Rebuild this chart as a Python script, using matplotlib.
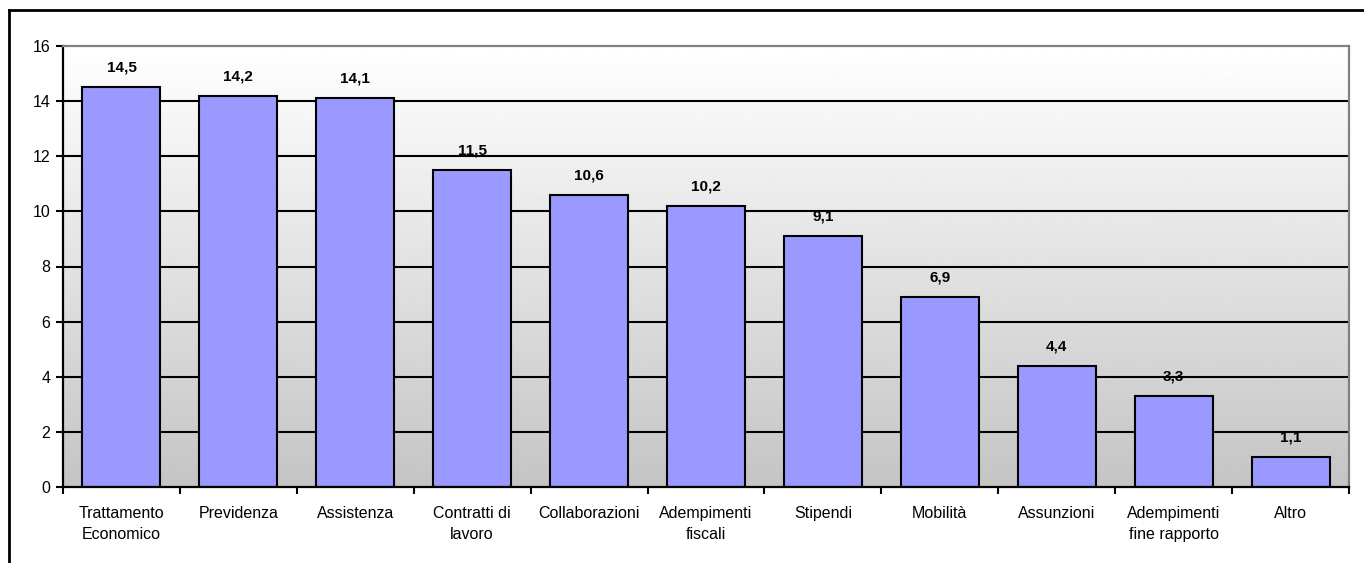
import numpy as np
import matplotlib
matplotlib.use("Agg")
import matplotlib.pyplot as plt
from matplotlib.lines import Line2D

categories = ["Trattamento\nEconomico", "Previdenza", "Assistenza", "Contratti di\nlavoro",
              "Collaborazioni", "Adempimenti\nfiscali", "Stipendi", "Mobilità",
              "Assunzioni", "Adempimenti\nfine rapporto", "Altro"]
values = [14.5, 14.2, 14.1, 11.5, 10.6, 10.2, 9.1, 6.9, 4.4, 3.3, 1.1]
y_ticks = [0, 2, 4, 6, 8, 10, 12, 14, 16]

plt.rcParams['font.family'] = ['Liberation Sans', 'DejaVu Sans']

W, H = 1364, 563
fig = plt.figure(figsize=(W / 100, H / 100), dpi=100)
fig.patch.set_facecolor("white")

left, right, top, bottom = 63, 1349, 46, 487
ax = fig.add_axes([left / W, (H - bottom) / H, (right - left) / W, (bottom - top) / H])

n = len(categories)
x = np.arange(n)

# vertical gradient background: white at top to light grey at bottom
grad = np.linspace(1.0, 0.77, 256).reshape(-1, 1)
ax.imshow(grad, cmap="gray", vmin=0, vmax=1, aspect="auto", origin="upper",
          extent=(-0.5, n - 0.5, 0, 16), zorder=0, interpolation="bilinear")

for yv in y_ticks[1:-1]:
    ax.axhline(yv, color="black", lw=1.5, zorder=1)

bars = ax.bar(x, values, width=0.667, color="#9999FF", edgecolor="black", linewidth=1.5, zorder=2)

for xi, v in zip(x, values):
    ax.annotate(f"{v:.1f}".replace(".", ","), (xi, v), xytext=(0, 9), textcoords="offset points",
                ha="center", va="bottom", fontsize=11, fontweight="bold", zorder=3)

ax.set_xlim(-0.5, n - 0.5)
ax.set_ylim(0, 16)
ax.set_yticks(y_ticks)
ax.set_yticklabels([str(t) for t in y_ticks], fontsize=11.5)
ax.set_xticks(x)
ax.set_xticklabels(categories, fontsize=11.5, linespacing=1.45)
ax.tick_params(axis="x", length=0, pad=14)
ax.set_xticks(np.arange(-0.5, n, 1.0), minor=True)
ax.tick_params(axis="x", which="minor", length=5, width=1.5, direction="out")
ax.tick_params(axis="y", length=5, width=1.5, direction="out", pad=4)

for side in ("left", "bottom"):
    ax.spines[side].set_color("black")
    ax.spines[side].set_linewidth(1.6)
for side in ("top", "right"):
    ax.spines[side].set_color("#808080")
    ax.spines[side].set_linewidth(1.6)

# outer chart frame
fig.add_artist(Line2D([9 / W, 1.0], [1 - 10 / H, 1 - 10 / H], transform=fig.transFigure,
                      color="black", lw=2))
fig.add_artist(Line2D([9 / W, 9 / W], [1 - 10 / H, 0.0], transform=fig.transFigure,
                      color="black", lw=2))

fig.savefig("out.png", dpi=100)
